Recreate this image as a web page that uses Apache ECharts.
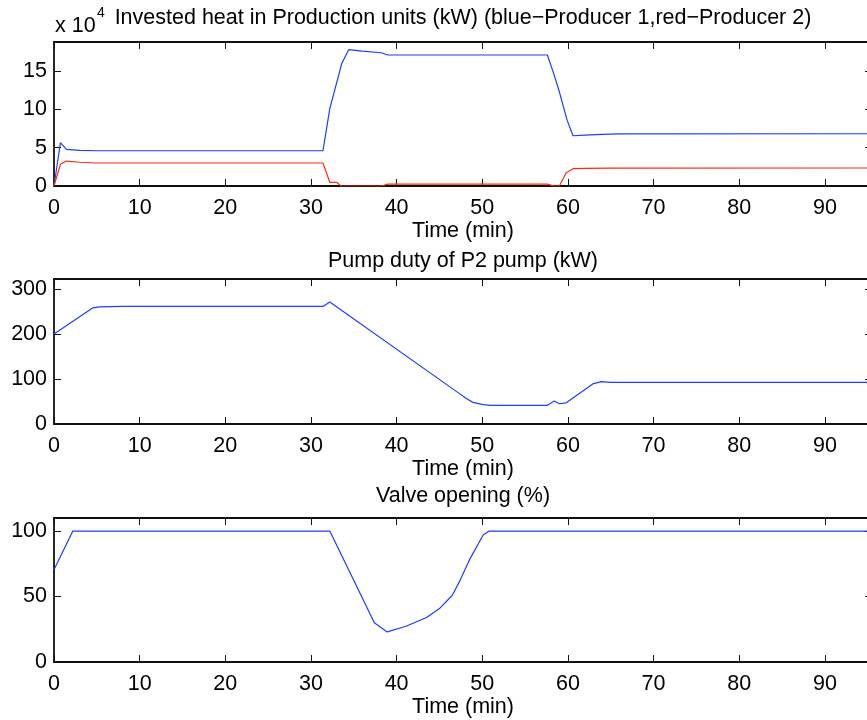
<!DOCTYPE html>
<html>
<head>
<meta charset="utf-8">
<script src="https://cdn.jsdelivr.net/npm/echarts@6/dist/echarts.min.js"></script>
<style>
  html, body { margin: 0; padding: 0; background: #fff; }
  #chart { width: 867px; height: 720px; }
</style>
</head>
<body>
<div id="chart"></div>
<script>
// Time axis (minutes)
const timeMax = 95.5;
const timeTicks = 10;

// Invested heat, Producer 1 (kW)
const p1Time = [0, 0.75, 1.45, 3, 5, 31.4, 32.2, 33.6, 34.4, 36, 38.2, 39.0, 57.6, 58.3, 59.0, 59.9, 60.6, 62, 64, 66, 95.5];
const p1Heat = [0, 56500, 47800, 46500, 46000, 46000, 101000, 160000, 178000, 176000, 174000, 171000, 171000, 148000, 123000, 86000, 65600, 66500, 67500, 68000, 68200];

// Invested heat, Producer 2 (kW)
const p2Time = [0, 0.75, 1.45, 3, 5, 31.4, 32.2, 33.0, 33.5, 38.2, 39.0, 57.6, 58.4, 59.0, 59.8, 60.6, 62, 65, 95.5];
const p2Heat = [0, 28300, 32600, 31000, 30000, 30000, 4800, 4800, 0, 0, 2500, 2500, 0, 0, 17400, 22600, 23000, 23400, 23500];

// Pump duty of P2 pump (kW)
const pumpTime = [0, 4.55, 5.3, 8, 31.4, 32.2, 47.3, 48.1, 48.9, 50.1, 51, 57.6, 58.4, 59.0, 59.8, 62.9, 63.9, 65, 95.5];
const pumpDuty = [200, 258, 260, 261, 261, 271, 68, 57, 48, 43, 41.5, 41.5, 51, 45, 47, 89, 94, 92.5, 92.5];

// Valve opening (%)
const valveTime = [0, 2.2, 32.2, 37.4, 38.9, 41.1, 43.5, 45.0, 46.5, 47.3, 48.5, 50.1, 50.8, 95.5];
const valveOpen = [70.5, 100, 100, 30, 23, 27.3, 34, 40.8, 51, 61, 78, 97, 100, 100];

// Y-axis ranges and tick steps
const heatAxis = { max: 188000, interval: 50000 };
const pumpAxis = { max: 322, interval: 100 };
const valveAxis = { max: 110, interval: 50 };

const titles = [
  'Invested heat in Production units (kW) (blue\u2212Producer 1,red\u2212Producer 2)',
  'Pump duty of P2 pump (kW)',
  'Valve opening (%)'
];
const xName = 'Time (min)';

const FONT = '"Liberation Sans", Arial, Helvetica, sans-serif';
const FS = 21.5;
const BLUE = '#1f3cff';
const RED = '#ff2a0a';
const AXIS = '#111';

const zip = (xs, ys) => xs.map((x, i) => [x, ys[i]]);

// The plot boxes run slightly past the right edge of the canvas
const gridBase = { left: 54, width: 818, outerBoundsMode: 'none', containLabel: false };
const grids = [
  Object.assign({ top: 42, height: 144 }, gridBase),
  Object.assign({ top: 279, height: 145 }, gridBase),
  Object.assign({ top: 518, height: 144 }, gridBase)
];

const lineStyleAxis = { show: true, onZero: false, lineStyle: { color: AXIS, width: 1.8 } };
const tickIn = { show: true, inside: true, length: 7, lineStyle: { color: AXIS, width: 1 } };

const xAxes = [];
const yAxes = [];
const yRanges = [heatAxis, pumpAxis, valveAxis];
grids.forEach((g, i) => {
  xAxes.push({
    type: 'value', gridIndex: i, position: 'bottom', min: 0, max: timeMax, interval: timeTicks,
    axisLine: lineStyleAxis, axisTick: tickIn, splitLine: { show: false },
    axisLabel: { show: true, showMaxLabel: false, margin: 11, color: '#000', fontFamily: FONT, fontSize: FS },
    name: xName, nameLocation: 'middle', nameGap: 34,
    nameTextStyle: { color: '#000', fontFamily: FONT, fontSize: FS }
  });
  xAxes.push({
    type: 'value', gridIndex: i, position: 'top', min: 0, max: timeMax, interval: timeTicks,
    axisLine: lineStyleAxis, axisTick: tickIn, splitLine: { show: false },
    axisLabel: { show: false }
  });
  const r = yRanges[i];
  yAxes.push({
    type: 'value', gridIndex: i, position: 'left', min: 0, max: r.max, interval: r.interval,
    axisLine: lineStyleAxis, axisTick: tickIn, splitLine: { show: false },
    axisLabel: {
      show: true, showMaxLabel: false, margin: 7, color: '#000', fontFamily: FONT, fontSize: FS,
      formatter: i === 0 ? (v) => String(v / 10000) : (v) => String(v)
    }
  });
  yAxes.push({
    type: 'value', gridIndex: i, position: 'right', min: 0, max: r.max, interval: r.interval,
    axisLine: lineStyleAxis, axisTick: tickIn, splitLine: { show: false },
    axisLabel: { show: false }
  });
});

const lineSeries = (xi, yi, data, color) => ({
  type: 'line', xAxisIndex: xi, yAxisIndex: yi, data, showSymbol: false, symbol: 'none',
  lineStyle: { color, width: 1.2 }, animation: false, silent: true
});

const textEl = (x, y, text, size, align) => ({
  type: 'text', x, y,
  style: { text, textAlign: align, textVerticalAlign: 'middle', font: size + 'px ' + FONT, fill: '#000' }
});

const chart = echarts.init(document.getElementById('chart'), null, { renderer: 'canvas' });
chart.setOption({
  animation: false,
  backgroundColor: '#fff',
  grid: grids,
  xAxis: xAxes,
  yAxis: yAxes,
  series: [
    lineSeries(0, 0, zip(p1Time, p1Heat), BLUE),
    lineSeries(0, 0, zip(p2Time, p2Heat), RED),
    lineSeries(2, 2, zip(pumpTime, pumpDuty), BLUE),
    lineSeries(4, 4, zip(valveTime, valveOpen), BLUE)
  ],
  graphic: [
    textEl(463, 18, titles[0], FS, 'center'),
    textEl(463, 261, titles[1], FS, 'center'),
    textEl(463, 496, titles[2], FS, 'center'),
    textEl(55, 26, 'x 10', FS, 'left'),
    textEl(97, 13, '4', 14, 'left')
  ]
});
</script>
</body>
</html>
